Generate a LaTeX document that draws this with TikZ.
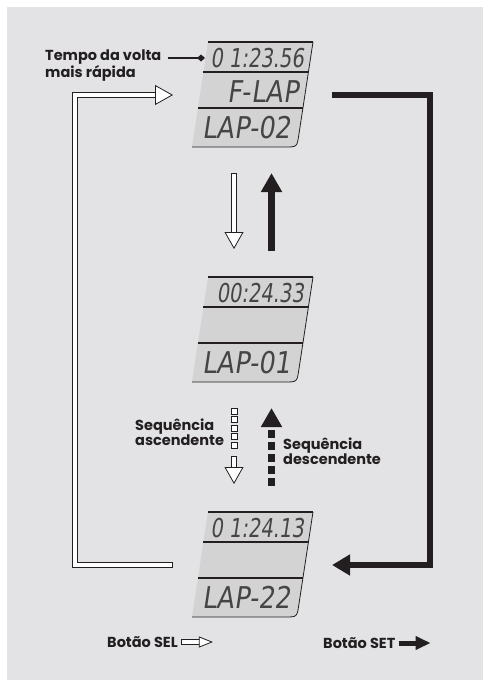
\documentclass[tikz,border=0pt]{standalone}
\usepackage{fontspec}
\setmainfont{Poppins}
\newfontfamily\lcdfont[FakeSlant=0.15,FakeStretch=0.85]{DejaVu Sans}
\newfontfamily\lcdnumfont[FakeSlant=0.15,FakeStretch=0.75]{DejaVu Sans}
\usetikzlibrary{arrows.meta,calc}
\definecolor{bggray}{HTML}{E3E3E5}
\definecolor{lcdgray}{HTML}{D3D3D4}
\definecolor{ink}{HTML}{231F20}
\definecolor{lcdink}{HTML}{454545}

% one lap display: name, x, y, top row, middle row, bottom row
\newcommand{\lcdpanel}[6]{%
\begin{scope}[shift={(#2,#3)}]
\coordinate (#1) at (0,0);
\fill[lcdfill] (0,0) -- (105,0) -- (90.8,93) .. controls (89,105) .. (77,105) -- (-16,105) -- cycle;
\draw[lcdedge] (-16,105) -- (77,105) .. controls (89,105) .. (90.8,93) -- (105,0);
\draw[lcdsep] (-4.6,30) -- (100.4,30);
\draw[lcdsep] (-10,66) -- (95,66);
\draw[lcdtop] (0,0) -- (105,0);
\node[lcdtext, font=\lcdnumfont\fontsize{26}{26}\selectfont, anchor=base east] (#1-r1) at (96,25) {#4};
\node[lcdtext, anchor=base east] (#1-r2) at (91,60) {#5};
\node[lcdtext, anchor=base west] (#1-r3) at (-6,96) {#6};
\coordinate (#1-west) at (-35,53);
\coordinate (#1-east) at (124,53);
\coordinate (#1-belowL) at (26,131);
\coordinate (#1-belowR) at (63.5,131);
\coordinate (#1-aboveL) at (26,-28);
\coordinate (#1-aboveR) at (63.5,-26);
\end{scope}}

\begin{document}
\begin{tikzpicture}[
x=1pt, y=-1pt,
lcdfill/.style={fill=lcdgray},
lcdtop/.style={draw=ink, line width=2pt},
lcdsep/.style={draw=ink, line width=1.4pt},
lcdedge/.style={draw=ink, line width=0.8pt},
lcdtext/.style={text=lcdink, inner sep=0pt, font=\lcdfont\fontsize{30}{30}\selectfont},
lbl/.style={font=\bfseries\fontsize{14.5}{15}\selectfont, text=ink, align=left, inner sep=0pt},
pointer/.style={draw=ink, line width=1.3pt, shorten <=6pt, -{Diamond[length=8pt,width=7pt]}},
setarrow/.style={draw=ink, line width=5.5pt, line join=miter, -{Triangle[length=18pt,width=20pt]}},
selarrow/.style={draw=ink, double=white, double distance=4.4pt, line width=0.8pt,
  line cap=rect, line join=miter, shorten <=3pt,
  -{Triangle[open, fill=white, length=18pt, width=20pt, line width=0.8pt]}},
selbox/.style={draw=ink, fill=white, line width=0.8pt}
]
\fill[bggray] (7,7) rectangle (483,680);
\useasboundingbox (0,0) rectangle (483,680);

\lcdpanel{lap1}{208}{42}{0 1:23.56}{F-LAP}{LAP-02}
\lcdpanel{lap2}{208}{277}{00:24.33}{}{LAP-01}
\lcdpanel{lap3}{208}{512}{0 1:24.13}{}{LAP-22}

% label of the fastest lap
\node[lbl, anchor=north west] (tempo) at (45,50) {Tempo da volta\\mais rápida};
\coordinate (lap1-ptr) at (205,58);
\draw[pointer] (tempo.east |- lap1-ptr) -- (lap1-ptr);

% SEL and SET loops
\draw[selarrow] (lap3-west) -- ++(-98,0) |- (lap1-west);
\draw[setarrow] (lap1-east) -- ++(98,0) |- (lap3-east);

% between the displays
\draw[selarrow, -{Triangle[open, fill=white, length=17pt, width=19pt, line width=0.8pt]}] (lap1-belowL) -- (lap2-aboveL);
\draw[setarrow, line width=7pt, -{Triangle[length=19pt,width=20pt]}] (lap2-aboveR) -- (lap1-belowR);

\foreach \k in {0,...,4}
  \draw[selbox] ($(lap2-belowL)+(-3,8.6*\k)$) rectangle ++(6,6);
\draw[selarrow, -{Triangle[open, fill=white, length=17pt, width=19pt, line width=0.8pt]}] ($(lap2-belowL)+(0,48)$) -- (lap3-aboveL);
\draw[setarrow, line width=7pt, dash pattern=on 8pt off 4pt, -{Triangle[length=19pt,width=20pt]}] (lap3-aboveR) -- (lap2-belowR);

\node[lbl, anchor=north west] (ascend) at (135,419) {Sequência\\ascendente};
\node[lbl, anchor=north west] (descend) at (283,438) {Sequência\\descendente};

% key
\node[lbl, anchor=west] (selkey) at (107,642) {Botão SEL};
\coordinate (selkey-tip) at ($(selkey.east)+(35,0)$);
\draw[selarrow, double distance=3.6pt, shorten <=6pt, -{Triangle[open, fill=white, length=14pt, width=11pt, line width=0.8pt]}] (selkey.east) -- (selkey-tip);
\node[lbl, anchor=west] (setkey) at (323,643) {Botão SET};
\coordinate (setkey-tip) at ($(setkey.east)+(35,0)$);
\draw[setarrow, line width=5pt, shorten <=3pt, -{Triangle[length=15pt,width=13pt]}] (setkey.east) -- (setkey-tip);
\end{tikzpicture}
\end{document}
